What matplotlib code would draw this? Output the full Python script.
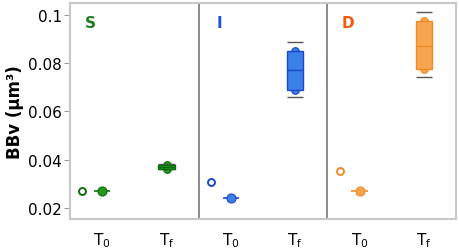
import matplotlib
matplotlib.use("Agg")
import matplotlib.pyplot as plt
from matplotlib.patches import Rectangle

# data
groups = ["S", "I", "D"]
t0_open = [0.0269, 0.0309, 0.0355]
t0_value = [0.0272, 0.0241, 0.0272]
tf_q1 = [0.0362, 0.0689, 0.0776]
tf_median = [0.0371, 0.0771, 0.0873]
tf_q3 = [0.0380, 0.0852, 0.0976]
tf_low = [0.0360, 0.0659, 0.0744]
tf_high = [0.0382, 0.0889, 0.1014]
tick_labels = ["T$_\\mathrm{0}$", "T$_\\mathrm{f}$"] * 3
yticks = [0.02, 0.04, 0.06, 0.08, 0.1]
ytick_labels = ["0.02", "0.04", "0.06", "0.08", "0.1"]

face = ["#22961f", "#3b7fe8", "#f9a54f"]
edge = ["#0d6e0d", "#1a48cc", "#f08a26"]
label_col = ["#1e7d1e", "#2052e0", "#f55a10"]

fig = plt.figure(figsize=(4.59, 2.51), dpi=100)
ax = fig.add_axes([70 / 459, 1 - 220 / 251, 386 / 459, 216 / 251])

bw = 0.25
for i, g in enumerate(groups):
    x0 = 2 * i
    x1 = 2 * i + 1
    # T0: open circle + filled point with short bar
    ax.plot(x0 - 0.31, t0_open[i], "o", ms=5, mfc="white", mec=edge[i], mew=1.4, zorder=3)
    ax.hlines(t0_value[i], x0 - bw / 2, x0 + bw / 2, color=edge[i], lw=1.2, zorder=3)
    ax.plot(x0, t0_value[i], "o", ms=6.5, color=face[i], mec=edge[i], mew=0.8, zorder=4)
    # Tf: box, median, caps, edge points
    ax.plot([x1, x1], [tf_q1[i], tf_q3[i]], "o", ms=5.5, color=face[i], mec=edge[i], mew=0.8, zorder=2)
    ax.add_patch(Rectangle((x1 - bw / 2, tf_q1[i]), bw, tf_q3[i] - tf_q1[i],
                           facecolor=face[i], edgecolor=edge[i], lw=1.0, zorder=3))
    ax.hlines(tf_median[i], x1 - bw / 2, x1 + bw / 2, color=edge[i], lw=1.0, zorder=4)
    ax.hlines([tf_low[i], tf_high[i]], x1 - bw / 2, x1 + bw / 2, color="#555555", lw=1.0, zorder=2)
    ax.text(x0 - 0.18, 0.0967, g, color=label_col[i], fontsize=11,
            fontweight="bold", ha="center", va="center")

for xv in [1.5, 3.5]:
    ax.axvline(xv, color="#777777", lw=1.2, zorder=1)

ax.set_xlim(-0.5, 5.5)
ax.set_ylim(0.01544, 0.10497)
ax.set_xticks(range(6))
ax.set_xticklabels(tick_labels, fontsize=11)
ax.set_yticks(yticks)
ax.set_yticklabels(ytick_labels, fontsize=11)
ax.tick_params(axis="x", length=0, pad=8)
ax.tick_params(axis="y", length=4, color="#999999", width=0.8, pad=2)
for s in ax.spines.values():
    s.set_color("#c8c8c8")
    s.set_linewidth(1.5)
ax.set_ylabel("BBv (μm³)", fontsize=12, fontweight="bold", labelpad=3)

fig.savefig("out.png", dpi=100)
